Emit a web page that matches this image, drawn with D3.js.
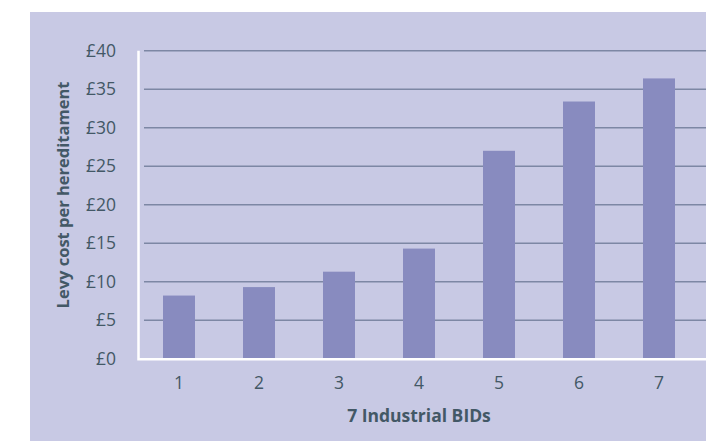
<!DOCTYPE html>
<head>
  <meta charset="utf-8">
  <title>Levy cost per hereditament</title>
  <script src="https://cdn.jsdelivr.net/npm/d3@7"></script>
  <style>
  body {
    margin: 0;
    font-family: "Open Sans", sans-serif;
  }
  .tick text {
    fill: #435866;
    font-family: "Open Sans", sans-serif;
    font-size: 17.5px;
  }
  .axis-title {
    fill: #435866;
    font-size: 16.5px;
    font-weight: bold;
    text-anchor: middle;
  }
  </style>
</head>
<body>
<script type="text/javascript">
// Chart data
var bids = ["1", "2", "3", "4", "5", "6", "7"];
var levy = [8.2, 9.3, 11.3, 14.3, 27.0, 33.4, 36.4];
var yTicks = [0, 5, 10, 15, 20, 25, 30, 35, 40];

var width = 706, height = 441;

var svg = d3.select("body").append("svg")
    .attr("width", width)
    .attr("height", height);

// lavender panel behind everything
svg.append("rect")
    .attr("x", 30).attr("y", 12)
    .attr("width", width - 30).attr("height", height - 12)
    .attr("fill", "#c8c9e4");

var x = d3.scaleBand()
    .domain(bids)
    .range([139, 699])
    .paddingInner(0.6)
    .paddingOuter(0.3);

var y = d3.scaleLinear()
    .domain([0, 40])
    .range([358.7, 50.7]);

// gridlines
svg.append("g")
  .selectAll("line")
  .data(yTicks.slice(1))
  .enter().append("line")
    .attr("x1", 144).attr("x2", width)
    .attr("y1", function(d) { return y(d); })
    .attr("y2", function(d) { return y(d); })
    .attr("stroke", "#7d87a4")
    .attr("stroke-width", 1.5);

// bars
svg.append("g")
  .selectAll("rect")
  .data(levy)
  .enter().append("rect")
    .attr("x", function(d, i) { return x(bids[i]); })
    .attr("width", x.bandwidth())
    .attr("y", function(d) { return y(d); })
    .attr("height", function(d) { return y(0) - y(d); })
    .attr("fill", "#888bbf");

// white frame on left and bottom
svg.append("path")
    .attr("d", "M138.5," + y(40) + "V" + (y(0) + 0.5) + "H" + width)
    .attr("fill", "none")
    .attr("stroke", "#ffffff")
    .attr("stroke-width", 2.5);

// y axis labels
var yAxis = svg.append("g")
    .attr("transform", "translate(116,0)")
    .call(d3.axisLeft(y).tickValues(yTicks).tickSize(0).tickPadding(0)
      .tickFormat(function(d) { return "£" + d; }));
yAxis.select(".domain").remove();

// x axis labels
var xAxis = svg.append("g")
    .attr("transform", "translate(0," + (y(0) + 18) + ")")
    .call(d3.axisBottom(x).tickSize(0).tickPadding(0));
xAxis.select(".domain").remove();

svg.append("text")
    .attr("class", "axis-title")
    .attr("x", (x.range()[0] + x.range()[1]) / 2)
    .attr("y", 422)
    .style("font-size", "17.5px")
    .text("7 Industrial BIDs");

svg.append("text")
    .attr("class", "axis-title")
    .attr("transform", "translate(69,195) rotate(-90)")
    .text("Levy cost per hereditament");
</script>
</body>
</html>
